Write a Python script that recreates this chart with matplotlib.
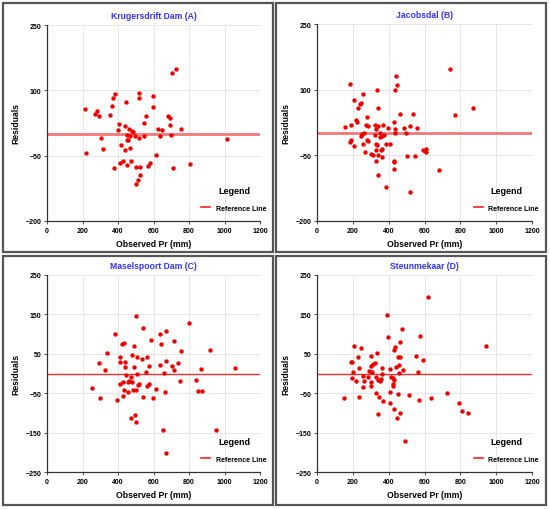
import numpy as np
import matplotlib
matplotlib.use('Agg')
import matplotlib.pyplot as plt
from matplotlib.patches import Rectangle
from matplotlib.lines import Line2D

plt.rcParams['font.family'] = ['Liberation Sans', 'DejaVu Sans']

# Krugersdrift Dam (A)
obs_a = [216, 221, 268, 279, 291, 304, 315, 356, 364, 373, 383, 379, 398, 403, 418, 409,
         429, 437, 444, 441, 450, 452, 456, 450, 460, 467, 469, 478, 486, 474, 495, 499,
         499, 514, 525, 523, 518, 519, 520, 544, 549, 559, 570, 583, 598, 598, 613, 626,
         638, 647, 681, 694, 694, 699, 707, 726, 709, 754, 808, 1012]
res_a = [56, -44, 46, 53, 41, -9, -34, 44, 65, 82, 92, -79, 10, 23, -25, -67,
         -62, 17, 74, -36, -72, -2, -13, -14, 12, -33, -5, 6, 4, -63, -5, -77,
         -115, -105, -95, -77, 94, 83, -10, -5, 24, 40, -74, -66, 87, 62, -48, 11,
         -4, 9, 40, 36, 21, -3, 140, 148, -78, 11, -70, -12]

# Jacobsdal (B)
obs_b = [159, 183, 187, 185, 192, 205, 209, 220, 224, 231, 239, 246, 244, 252, 258, 256,
         263, 267, 271, 278, 278, 282, 287, 304, 315, 323, 323, 330, 330, 332, 332, 336,
         336, 338, 341, 341, 343, 349, 352, 356, 360, 364, 364, 367, 374, 386, 386, 394,
         405, 427, 429, 431, 431, 435, 438, 438, 442, 446, 465, 485, 494, 504, 517, 521,
         537, 545, 556, 590, 601, 606, 606, 683, 743, 773, 873]
res_b = [15, 113, -16, -20, 19, 76, -28, 31, 27, 58, 67, 69, -5, -2, 91, -24,
         0, -42, 20, 38, -14, -18, 17, -47, -50, 20, -3, 10, -37, -62, -23, 99,
         -26, -50, -96, 58, 17, 0, -8, -38, -5, -54, -35, 20, -3, -123, -24, 12,
         -24, -66, -81, -64, 26, 99, 11, 1, 132, 111, 44, 13, 1, -52, -133, 16,
         44, -51, 12, -37, -40, -35, -42, -84, 147, 41, 59]

# Maselspoort Dam (C)
obs_c = [255, 292, 300, 326, 336, 384, 394, 412, 414, 414, 420, 431, 427, 427, 435, 439,
         441, 446, 454, 456, 461, 474, 472, 478, 480, 486, 489, 491, 493, 499, 499, 504,
         506, 506, 510, 521, 534, 540, 540, 555, 561, 562, 572, 574, 586, 596, 615, 637,
         637, 641, 651, 660, 662, 668, 669, 673, 703, 714, 718, 737, 750, 756, 799, 842,
         848, 870, 872, 919, 951, 1061]
res_c = [-38, 27, -62, 9, 53, 100, -66, 43, 29, -27, 75, 78, -58, -22, -41, 29,
         17, -5, -22, -47, -20, -10, -113, 46, -22, -43, 71, 17, -105, -123, 146, -42,
         -1, 43, -30, -27, 38, -59, 116, 5, -31, 43, 19, -27, 86, -62, -39, 21,
         100, 75, -143, 2, -47, 31, 108, -201, 19, 10, 82, 26, -19, 57, 127, -17,
         -44, 12, -44, 59, -143, 13]

# Steunmekaar (D)
obs_d = [151, 190, 198, 194, 200, 207, 220, 231, 233, 235, 246, 256, 258, 265, 284, 293,
         302, 302, 300, 302, 302, 308, 315, 325, 328, 334, 332, 340, 343, 347, 351, 356,
         360, 364, 370, 392, 394, 409, 409, 410, 414, 422, 423, 423, 429, 429, 435, 431,
         440, 448, 453, 453, 457, 457, 461, 465, 465, 472, 478, 493, 511, 554, 562, 571,
         573, 594, 618, 635, 724, 795, 808, 840, 943]
res_d = [-62, 30, 29, -12, 5, 71, -20, 43, -60, 15, 65, -34, -6, -19, -10, 7,
         19, 5, -22, -31, 45, 3, 24, 26, -49, 51, -9, -16, -102, -59, -20, -13,
         14, -1, -69, 149, 93, 11, -46, -74, -10, -12, -27, -32, -16, 59, 67, -90,
         16, -113, -53, 41, 22, 1, -100, 81, 41, 114, 9, -172, -54, 44, 4, -68,
         94, 35, 194, -61, -49, -75, -95, -100, 70]

titles = ['Krugersdrift Dam (A)', 'Jacobsdal (B)', 'Maselspoort Dam (C)', 'Steunmekaar (D)']
obs_all = [obs_a, obs_b, obs_c, obs_d]
res_all = [res_a, res_b, res_c, res_d]
yticks_top = [-200, -50, 100, 250]
yticks_bottom = [-250, -150, -50, 50, 150, 250]
xticks = [0, 200, 400, 600, 800, 1000, 1200]

W, H = 550, 510
fig = plt.figure(figsize=(W / 100, H / 100), dpi=100)

# panel borders (pixels: x0, y0, x1, y1)
borders = [(3, 4, 273, 253), (276, 4, 546, 253), (3, 257, 273, 506), (276, 257, 546, 506)]
for x0, y0, x1, y1 in borders:
    fig.patches.append(Rectangle((x0 / W, 1 - y1 / H), (x1 - x0) / W, (y1 - y0) / H,
                                 transform=fig.transFigure, fill=False,
                                 edgecolor='#555555', linewidth=1.6))

# axes boxes in pixels (left, top, right, bottom)
boxes = [(47, 26, 260, 222), (317, 25, 532, 222), (47, 276, 260, 473), (317, 276, 532, 473)]

for i, (l, t, r, b) in enumerate(boxes):
    ax = fig.add_axes([l / W, 1 - b / H, (r - l) / W, (b - t) / H])
    top_row = i < 2
    yt = yticks_top if top_row else yticks_bottom
    ax.set_xlim(0, 1200)
    ax.set_ylim(yt[0], yt[-1])
    ax.set_xticks(xticks)
    ax.set_yticks(yt)
    ax.grid(True, color='#e6e6e6', linewidth=0.7)
    ax.set_axisbelow(True)
    for s in ['top', 'right']:
        ax.spines[s].set_visible(False)
    for s in ['left', 'bottom']:
        ax.spines[s].set_color('#333333')
        ax.spines[s].set_linewidth(0.9)
    ax.tick_params(labelsize=5, length=2.5, width=0.6, color='#333333', pad=1.5)
    for lab in ax.get_xticklabels() + ax.get_yticklabels():
        lab.set_fontweight('bold')

    if top_row:
        ax.axhline(0, color='#f07878', linewidth=2.0, zorder=2)
    else:
        ax.axhline(0, color='#f03030', linewidth=1.0, zorder=2)
    ax.scatter(obs_all[i], res_all[i], s=10, color='#ee0000', zorder=3, linewidths=0)

    ax.set_title(titles[i], color='#3333ff', fontsize=6.2, fontweight='bold', pad=5)
    ax.set_xlabel('Observed Pr (mm)', fontsize=6.2, fontweight='bold', labelpad=4)
    ax.set_ylabel('Residuals', fontsize=6.2, fontweight='bold', labelpad=4)

    handle = Line2D([], [], color='#ff2020', linewidth=1.2)
    leg = ax.legend([handle], ['Reference Line'], title='Legend', loc='lower right',
                    bbox_to_anchor=(1.06, 0.015), frameon=False, handlelength=1.3,
                    handletextpad=0.8, prop={'size': 5, 'weight': 'bold'})
    leg.get_title().set_fontsize(6.5)
    leg.get_title().set_fontweight('bold')
    leg._legend_box.sep = 7

fig.savefig('out.png', dpi=100)
